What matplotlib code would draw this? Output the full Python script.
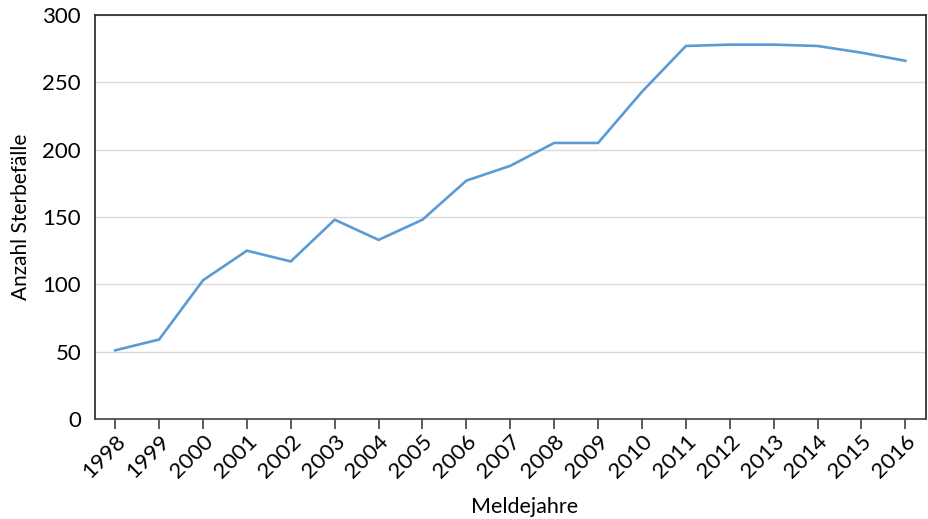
import numpy as np
import matplotlib.pyplot as plt

plt.rcParams['font.family'] = ['Lato', 'DejaVu Sans']

years = list(range(1998, 2017))
deaths = [51, 59, 103, 125, 117, 148, 133, 148, 177, 188, 205, 205, 243, 277, 278, 278, 277, 272, 266]

fig = plt.figure(figsize=(9.29, 5.19), dpi=100)
ax = fig.add_axes([95/929, 100/519, 831/929, 404/519])

ax.plot(years, deaths, color='#5B9BD5', lw=1.9, solid_joinstyle='miter')

ax.set_xlim(1997.54, 2016.47)
ax.set_ylim(0, 300)
ax.set_yticks(np.arange(0, 301, 50))
ax.set_xticks(years)
ax.set_xticklabels([str(y) for y in years], rotation=45, ha='right', rotation_mode='anchor')
ax.grid(True, axis='y', color='#d9d9d9', lw=1)
ax.set_axisbelow(True)
ax.tick_params(axis='y', length=0, pad=10, labelsize=16)
ax.tick_params(axis='x', length=7, width=1.2, color='#404040', labelsize=16, pad=2)
for s in ax.spines.values():
    s.set_color('#222222'); s.set_linewidth(1.2)
ax.spines['bottom'].set_color('#404040')

ax.set_xlabel('Meldejahre', fontsize=15.5)
ax.xaxis.set_label_coords(0.517, -0.193)
ax.set_ylabel('Anzahl Sterbefälle', fontsize=15, labelpad=8)

fig.savefig('out.png', dpi=100)
